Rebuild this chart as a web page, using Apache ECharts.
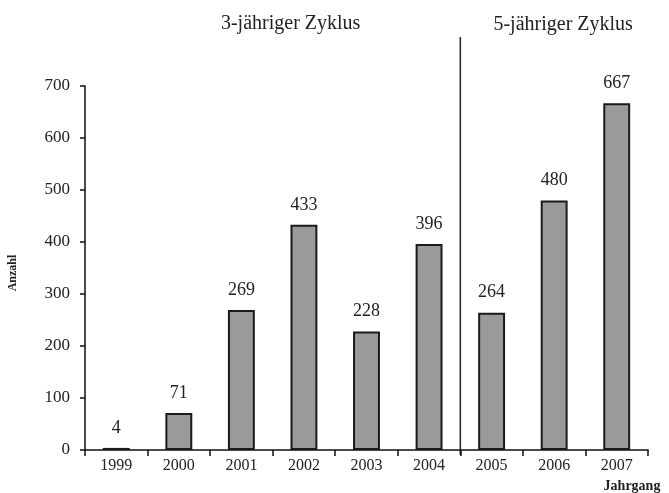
<!DOCTYPE html>
<html><head><meta charset="utf-8">
<script src="https://cdn.jsdelivr.net/npm/echarts@6/dist/echarts.min.js"></script>
<style>html,body{margin:0;padding:0;background:#fff}#c{width:669px;height:493px}</style>
</head><body><div id="c"></div>
<script>
var categories = ['1999','2000','2001','2002','2003','2004','2005','2006','2007'];
var values = [4, 71, 269, 433, 228, 396, 264, 480, 667];
var yTicks = { min: 0, max: 700, interval: 100 };
var cycleLabels = ['3-jähriger Zyklus', '5-jähriger Zyklus'];
var cycleSplitAfter = '2004';
var yName = 'Anzahl';
var xName = 'Jahrgang';

var FONT = '"Liberation Serif", "Times New Roman", serif';
var TXT = '#222';
var chart = echarts.init(document.getElementById('c'));
chart.setOption({
  animation: false,
  backgroundColor: '#fff',
  grid: { left: 85, right: 21, top: 86, bottom: 43, containLabel: false },
  xAxis: {
    type: 'category', data: categories,
    axisLine: { lineStyle: { color: '#111', width: 1.5 } },
    axisTick: { show: true, alignWithLabel: false, length: 6, lineStyle: { color: '#111', width: 1.5 } },
    axisLabel: { color: TXT, fontFamily: FONT, fontSize: 16, margin: 8 },
    splitLine: { show: false }
  },
  yAxis: {
    type: 'value', min: yTicks.min, max: yTicks.max, interval: yTicks.interval,
    axisLine: { show: true, lineStyle: { color: '#111', width: 1.5 } },
    axisTick: { show: true, length: 5, lineStyle: { color: '#111', width: 1.5 } },
    axisLabel: { color: TXT, fontFamily: FONT, fontSize: 17, margin: 15 },
    splitLine: { show: false }
  },
  series: [{
    type: 'bar', data: values, barWidth: '43%',
    itemStyle: { color: '#9a9a9a', borderColor: '#1a1a1a', borderWidth: 2 },
    label: { show: true, position: 'top', distance: 11, color: TXT, fontFamily: FONT, fontSize: 18 }
  }]
});

var i = categories.indexOf(cycleSplitAfter);
var p1 = chart.convertToPixel({ xAxisIndex: 0 }, categories[i]);
var p2 = chart.convertToPixel({ xAxisIndex: 0 }, categories[i + 1]);
var splitX = (p1 + p2) / 2;
var y0 = chart.convertToPixel({ yAxisIndex: 0 }, 0);
var c2 = chart.convertToPixel({ xAxisIndex: 0 }, categories[2]);
var c3 = chart.convertToPixel({ xAxisIndex: 0 }, categories[3]);
var c7 = chart.convertToPixel({ xAxisIndex: 0 }, categories[7]);

chart.setOption({
  graphic: [
    { type: 'line', shape: { x1: splitX, y1: 37, x2: splitX, y2: y0 + 5 }, style: { stroke: '#222', lineWidth: 1.5 } },
    { type: 'text', x: (c2 + c3) / 2 + 18, y: 24,
      style: { text: cycleLabels[0], font: '20px ' + FONT, fill: TXT, textAlign: 'center', textVerticalAlign: 'middle' } },
    { type: 'text', x: c7 + 9, y: 25,
      style: { text: cycleLabels[1], font: '20px ' + FONT, fill: TXT, textAlign: 'center', textVerticalAlign: 'middle' } },
    { type: 'text', x: 13, y: 273, rotation: Math.PI / 2,
      style: { text: yName, font: 'bold 12px ' + FONT, fill: TXT, textAlign: 'center', textVerticalAlign: 'middle' } },
    { type: 'text', x: 632, y: 486,
      style: { text: xName, font: 'bold 14px ' + FONT, fill: TXT, textAlign: 'center', textVerticalAlign: 'middle' } }
  ]
});
</script>
</body></html>
